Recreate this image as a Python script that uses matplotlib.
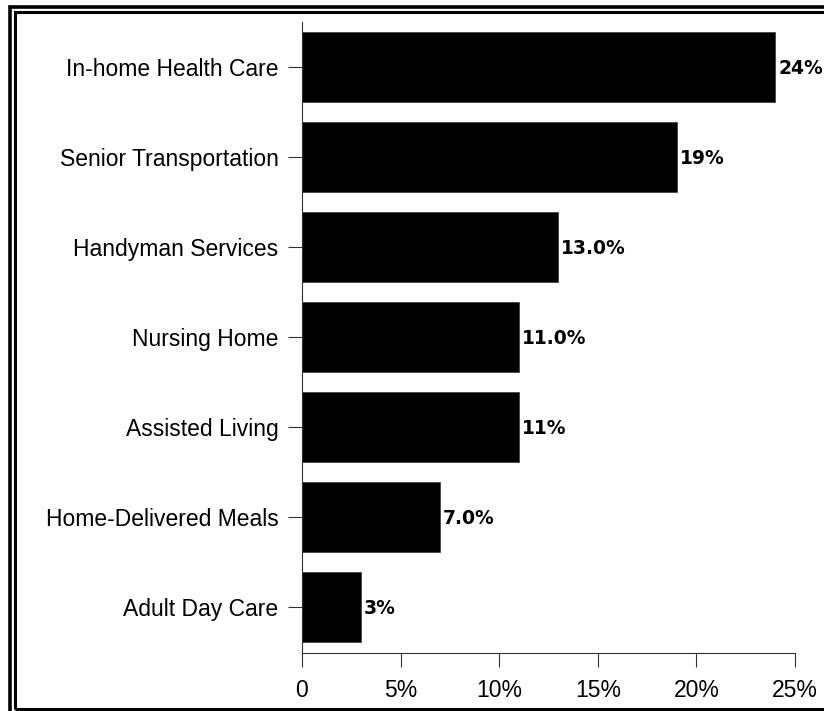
import matplotlib
matplotlib.use('Agg')
import matplotlib.pyplot as plt
from matplotlib.patches import Rectangle

categories = ["In-home Health Care", "Senior Transportation", "Handyman Services",
              "Nursing Home", "Assisted Living", "Home-Delivered Meals", "Adult Day Care"]
values = [24, 19, 13, 11, 11, 7, 3]
value_labels = ["24%", "19%", "13.0%", "11.0%", "11%", "7.0%", "3%"]
xticks = [0, 5, 10, 15, 20, 25]
xtick_labels = ["0", "5%", "10%", "15%", "20%", "25%"]

W, H = 824, 711
fig = plt.figure(figsize=(W / 100, H / 100), dpi=100)
ax = fig.add_axes([302 / W, (H - 653) / H, (795 - 302) / W, (653 - 22) / H])

ypos = list(range(len(categories)))
ax.barh(ypos, values, height=0.78, color='black', edgecolor='#444444', linewidth=0.6)
for y, v, lab in zip(ypos, values, value_labels):
    ax.text(v + 0.15, y + 0.02, lab, va='center', ha='left', fontsize=13.5,
            family='DejaVu Sans', fontweight='bold', color='black')

ax.set_xlim(0, 25)
ax.set_ylim(6.51, -0.5)
ax.set_yticks(ypos)
ax.set_yticklabels(categories, family='Liberation Sans', fontsize=16.5)
ax.set_xticks(xticks)
ax.set_xticklabels(xtick_labels, family='Liberation Sans', fontsize=16.5)
ax.tick_params(axis='y', length=10, width=0.8, color='#333333', pad=7)
ax.tick_params(axis='x', length=10, width=0.8, color='#333333', pad=9)
for s in ['top', 'right']:
    ax.spines[s].set_visible(False)
for s in ['left', 'bottom']:
    ax.spines[s].set_color('#333333')
    ax.spines[s].set_linewidth(0.8)

# double frame round the picture (cut off at right and bottom)
def px_rect(x0, y0, x1, y1, lw):
    fig.patches.append(Rectangle((x0 / W, 1 - y1 / H), (x1 - x0) / W, (y1 - y0) / H,
                                 transform=fig.transFigure, fill=False,
                                 edgecolor='black', linewidth=lw))

px_rect(10, 6.5, 900, 800, 2.6)
px_rect(15, 11.5, 900, 708.5, 2.2)

plt.savefig("out.png", dpi=100)
